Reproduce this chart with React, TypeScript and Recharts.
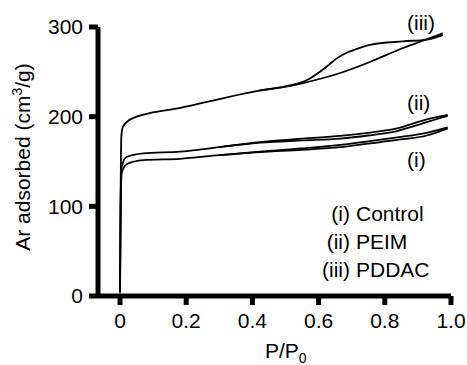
import React from 'react';
import { LineChart, Line, XAxis, YAxis, Customized } from 'recharts';

// Ar isotherms (adsorption + desorption branch per sample)
const controlAdsX = [0, 0.002, 0.005, 0.02, 0.07, 0.181, 0.3, 0.423, 0.55, 0.665, 0.75, 0.837, 0.927, 0.99];
const controlAdsY = [4, 100, 137, 147, 151.5, 153, 157, 160.5, 163, 166, 170, 174, 179, 187];
const controlDesX = [0.3, 0.423, 0.55, 0.665, 0.75, 0.837, 0.927, 0.99];
const controlDesY = [157, 161, 164.5, 168.5, 172.5, 177, 182, 188];

const peimAdsX = [0, 0.002, 0.005, 0.02, 0.07, 0.181, 0.3, 0.423, 0.55, 0.665, 0.75, 0.837, 0.927, 0.99];
const peimAdsY = [4, 110, 144, 155, 159, 161, 166, 171, 173.5, 175.5, 179, 184, 194, 201];
const peimDesX = [0.3, 0.423, 0.55, 0.665, 0.75, 0.837, 0.927, 0.99];
const peimDesY = [166, 171.5, 175.5, 178.5, 182, 187, 197, 202];

const pddacAdsX = [0, 0.002, 0.004, 0.008, 0.02, 0.05, 0.09, 0.17, 0.28, 0.42, 0.51, 0.553, 0.656, 0.755, 0.855, 0.906, 0.937, 0.975];
const pddacAdsY = [4, 120, 178, 188, 194, 200, 204, 209, 218, 229, 234, 237.5, 247.6, 261, 276.6, 283.6, 287.7, 293];
const pddacDesX = [0.42, 0.51, 0.56, 0.58, 0.604, 0.63, 0.655, 0.68, 0.704, 0.755, 0.855, 0.927, 0.975];
const pddacDesY = [229, 234.5, 240, 244, 250, 257.5, 265, 270.5, 274, 280, 284, 286, 291];

const xTicks = [0, 0.2, 0.4, 0.6, 0.8, 1.0];
const yTicks = [0, 100, 200, 300];

const legendTags = ['(i)', '(ii)', '(iii)'];
const legendNames = ['Control', 'PEIM', 'PDDAC'];

const zip = (xs: number[], ys: number[]) => xs.map((x, i) => ({ x, y: ys[i] }));

const series = [
  zip(controlAdsX, controlAdsY),
  zip(controlDesX, controlDesY),
  zip(peimAdsX, peimAdsY),
  zip(peimDesX, peimDesY),
  zip(pddacAdsX, pddacAdsY),
  zip(pddacDesX, pddacDesY),
];

const font = '"Liberation Sans", Arial, sans-serif';

function Notes() {
  return (
    <g fontFamily={font} fill="#000">
      <text x={-157} y={30} transform="rotate(-90)" textAnchor="middle" fontSize={21}>
        Ar adsorbed (cm<tspan dy={-8} fontSize={14}>3</tspan><tspan dy={8}>/g)</tspan>
      </text>
      <text x={265} y={358} fontSize={21}>
        P/P<tspan dy={5} fontSize={14}>0</tspan>
      </text>
      <text x={407} y={30} fontSize={21}>(iii)</text>
      <text x={407} y={110} fontSize={21}>(ii)</text>
      <text x={407} y={167} fontSize={21}>(i)</text>
      {legendTags.map((t, i) => (
        <g key={t}>
          <text x={350} y={221 + i * 28} fontSize={21} textAnchor="end">{t}</text>
          <text x={356} y={221 + i * 28} fontSize={21}>{legendNames[i]}</text>
        </g>
      ))}
    </g>
  );
}

export default function App() {
  return (
    <div style={{ position: 'absolute', left: 0, top: 0, background: '#fff' }}>
      <LineChart width={467} height={365} margin={{ top: 27, right: 16, left: 0, bottom: 0 }}>
        <XAxis
          type="number"
          dataKey="x"
          domain={[-0.0665, 1]}
          ticks={xTicks}
          allowDataOverflow
          tickFormatter={(v: number) => (v === 0 ? '0' : v.toFixed(1))}
          height={69}
          axisLine={{ stroke: '#000', strokeWidth: 5 }}
          tickLine={{ stroke: '#000', strokeWidth: 5 }}
          tickSize={9}
          tickMargin={8}
          tick={{ fill: '#000', fontSize: 21, fontFamily: font }}
        />
        <YAxis
          type="number"
          domain={[0, 300]}
          ticks={yTicks}
          width={98}
          axisLine={{ stroke: '#000', strokeWidth: 5 }}
          tickLine={{ stroke: '#000', strokeWidth: 5 }}
          tickSize={9}
          tickMargin={6}
          tick={{ fill: '#000', fontSize: 21, fontFamily: font }}
        />
        {series.map((d, i) => (
          <Line
            key={i}
            data={d}
            dataKey="y"
            type="monotone"
            stroke="#000"
            strokeWidth={1.8}
            dot={false}
            activeDot={false}
            isAnimationActive={false}
          />
        ))}
        <Customized component={Notes} />
      </LineChart>
    </div>
  );
}
